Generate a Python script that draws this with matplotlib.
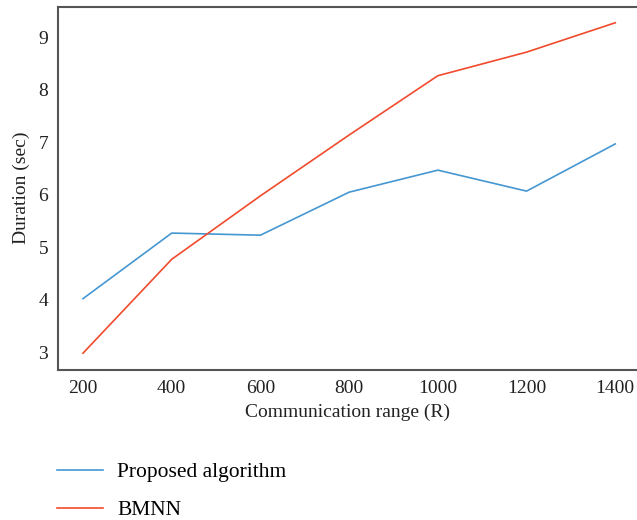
import matplotlib
matplotlib.use("Agg")
import matplotlib.pyplot as plt

# Duration versus communication range
comm_range = [200, 400, 600, 800, 1000, 1200, 1400]
proposed = [4.02, 5.27, 5.23, 6.05, 6.47, 6.07, 6.97]
bmnn = [2.98, 4.77, 5.98, 7.14, 8.27, 8.72, 9.28]
x_ticks = [200, 400, 600, 800, 1000, 1200, 1400]
y_ticks = [3, 4, 5, 6, 7, 8, 9]

plt.rcParams['font.family'] = ['Liberation Serif', 'DejaVu Serif']

fig = plt.figure(figsize=(6.37, 5.2), dpi=100)
ax = fig.add_axes([0.091, 0.2885, 0.909, 0.699])

ax.plot(comm_range, proposed, color='#4597d2', lw=1.2, label='Proposed algorithm')
ax.plot(comm_range, bmnn, color='#ef4b2c', lw=1.2, label='BMNN')

ax.set_xlim(143.6, 1449)
ax.set_ylim(2.66, 9.59)
ax.set_xticks(x_ticks)
ax.set_yticks(y_ticks)
ax.tick_params(length=0, labelsize=14, pad=7, colors='#222222')
for side in ['left', 'top', 'bottom']:
    ax.spines[side].set_color('#555555')
    ax.spines[side].set_linewidth(1.5)
ax.spines['right'].set_visible(False)

ax.set_xlabel('Communication range (R)', fontsize=14, color='#222222', labelpad=5)
ax.set_ylabel('Duration (sec)', fontsize=14, color='#222222', labelpad=6)

handles, labels = ax.get_legend_handles_labels()
fig.legend(handles, labels, loc='upper left', bbox_to_anchor=(0.0895, 0.111),
           frameon=False, fontsize=15.5, handlelength=2.15, handletextpad=0.65,
           labelspacing=0.83, borderaxespad=0, borderpad=0)

fig.savefig('out.png', dpi=100)
